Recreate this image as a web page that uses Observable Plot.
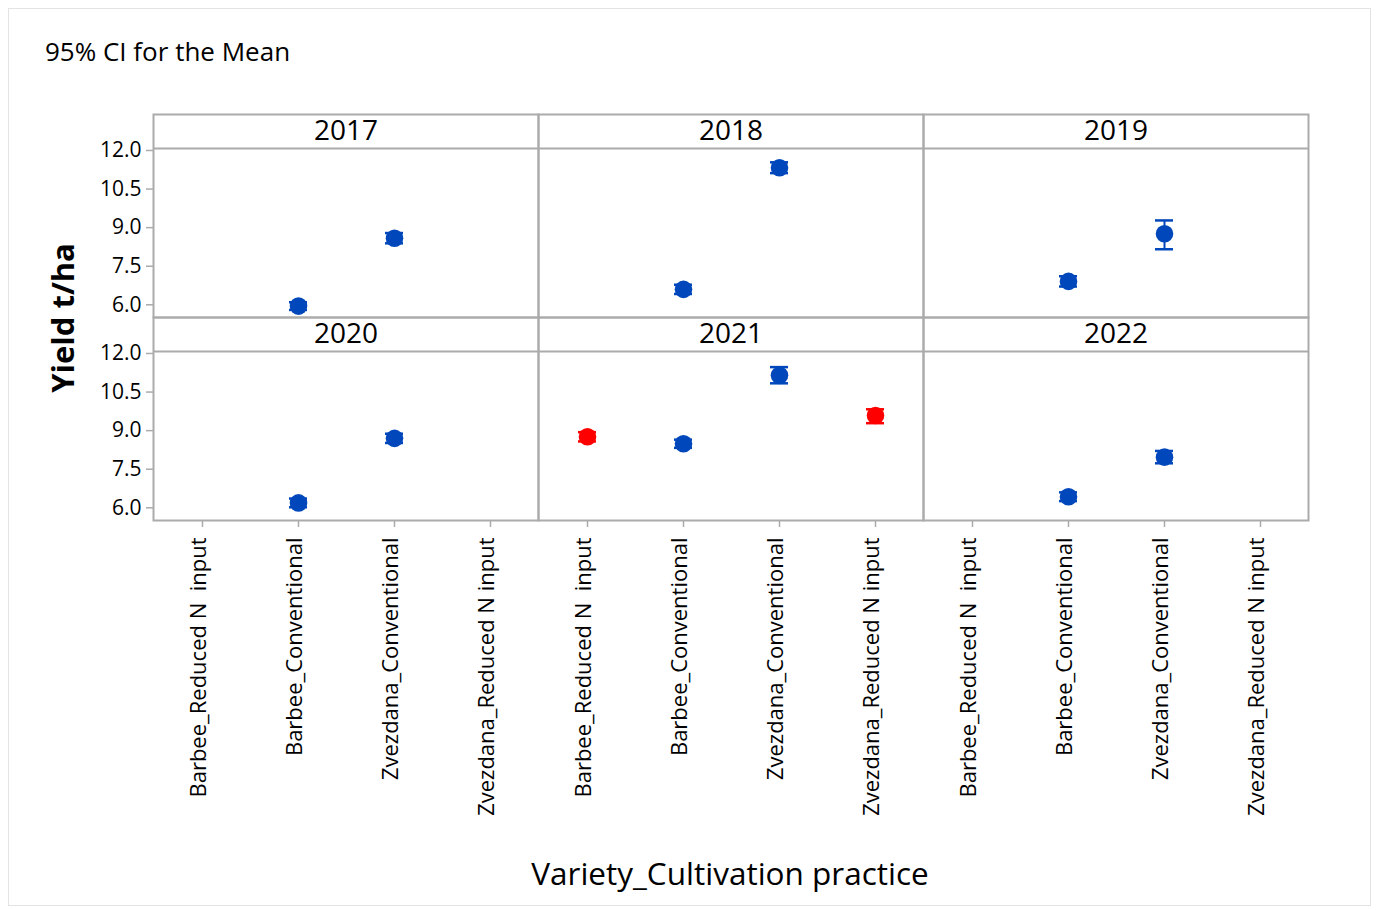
<!DOCTYPE html>
<html>
<head>
<meta charset="utf-8">
<script src="https://cdn.jsdelivr.net/npm/d3@7"></script>
<script src="https://cdn.jsdelivr.net/npm/@observablehq/plot@0.6"></script>
<style>
  html, body { margin: 0; padding: 0; background: #fff; }
  #wrap { position: relative; width: 1377px; height: 910px; font-family: "Open Sans", sans-serif; overflow: hidden; }
  #border { position: absolute; left: 8px; top: 8px; width: 1363px; height: 898px; border: 1px solid #e3e3e3; box-sizing: border-box; }
  #title { position: absolute; left: 45px; top: 33px; font-size: 26px; color: #000; white-space: nowrap; }
  #ylabel { position: absolute; left: 62px; top: 318px; font-size: 31px; font-weight: bold; color: #000; white-space: nowrap; transform: translate(-50%, -50%) rotate(-90deg); }
  #xlabel { position: absolute; left: 730px; top: 872px; font-size: 31.5px; color: #000; white-space: nowrap; transform: translate(-50%, -50%); }
  #chart { position: absolute; left: 0; top: 0; }
  #chart svg text { white-space: pre; }
</style>
</head>
<body>
<div id="wrap">
  <div id="border"></div>
  <div id="chart"></div>
  <div id="title">95% CI for the Mean</div>
  <div id="ylabel">Yield t/ha</div>
  <div id="xlabel">Variety_Cultivation practice</div>
</div>
<script>
// ---- data ----
const years = [2017, 2018, 2019, 2020, 2021, 2022];
const categories = ["Barbee_Reduced N  input", "Barbee_Conventional", "Zvezdana_Conventional", "Zvezdana_Reduced N input"];
const yTicks = [6.0, 7.5, 9.0, 10.5, 12.0];

// means and 95% CI bounds per year (null = no data)
const barbeeReducedMean  = [null, null, null, null, 8.76, null];
const barbeeReducedLo    = [null, null, null, null, 8.58, null];
const barbeeReducedHi    = [null, null, null, null, 8.94, null];

const barbeeConvMean     = [5.95, 6.60, 6.91, 6.19, 8.49, 6.43];
const barbeeConvLo       = [5.80, 6.42, 6.71, 6.02, 8.33, 6.26];
const barbeeConvHi       = [6.10, 6.78, 7.11, 6.36, 8.65, 6.60];

const zvezdanaConvMean   = [8.59, 11.33, 8.76, 8.70, 11.15, 7.97];
const zvezdanaConvLo     = [8.39, 11.12, 8.16, 8.52, 10.84, 7.73];
const zvezdanaConvHi     = [8.79, 11.54, 9.28, 8.88, 11.47, 8.21];

const zvezdanaReducedMean = [null, null, null, null, 9.59, null];
const zvezdanaReducedLo   = [null, null, null, null, 9.29, null];
const zvezdanaReducedHi   = [null, null, null, null, 9.83, null];

// ---- build table ----
const series = [
  {cat: categories[0], mean: barbeeReducedMean, lo: barbeeReducedLo, hi: barbeeReducedHi, reduced: true},
  {cat: categories[1], mean: barbeeConvMean, lo: barbeeConvLo, hi: barbeeConvHi, reduced: false},
  {cat: categories[2], mean: zvezdanaConvMean, lo: zvezdanaConvLo, hi: zvezdanaConvHi, reduced: false},
  {cat: categories[3], mean: zvezdanaReducedMean, lo: zvezdanaReducedLo, hi: zvezdanaReducedHi, reduced: true}
];
const data = years.flatMap((yr, i) =>
  series.filter(s => s.mean[i] != null).map(s => ({
    year: yr, col: i % 3, row: Math.floor(i / 3), cat: s.cat,
    mean: s.mean[i], lo: s.lo[i], hi: s.hi[i], reduced: s.reduced
  }))
);
const panels = years.map((yr, i) => ({year: yr, col: i % 3, row: Math.floor(i / 3)}));

const BLUE = "#0047bb", RED = "#ff0000", GRID = "#ababab";
const colorOf = d => d.reduced ? RED : BLUE;

// y domain covers the plotting area plus the year strip on top of each panel
const Y_MIN = 5.506, Y_STRIP = 12.08, Y_MAX = 13.399;

const chart = Plot.plot({
  width: 1377,
  height: 910,
  marginLeft: 152,
  marginRight: 69,
  marginTop: 114,
  marginBottom: 390,
  style: {fontFamily: "Open Sans, sans-serif", background: "transparent", color: "#000"},
  fx: {domain: [0, 1, 2], padding: 0, axis: null},
  fy: {domain: [0, 1], padding: 0, axis: null},
  x: {type: "band", domain: categories, padding: 0},
  y: {domain: [Y_MIN, Y_MAX]},
  color: {type: "identity"},
  marks: [
    Plot.frame({stroke: GRID, strokeWidth: 2}),
    Plot.ruleY([Y_STRIP], {stroke: GRID, strokeWidth: 2}),
    Plot.text(panels, {fx: "col", fy: "row", text: d => String(d.year), frameAnchor: "top", dy: 17, lineAnchor: "middle", fontSize: 28, fontWeight: 500, fill: "#000"}),
    Plot.ruleX(data, {fx: "col", fy: "row", x: "cat", y1: "lo", y2: "hi", stroke: colorOf, strokeWidth: 2}),
    Plot.tickY(data, {fx: "col", fy: "row", x: "cat", y: "lo", stroke: colorOf, strokeWidth: 2.5, insetLeft: 39, insetRight: 39}),
    Plot.tickY(data, {fx: "col", fy: "row", x: "cat", y: "hi", stroke: colorOf, strokeWidth: 2.5, insetLeft: 39, insetRight: 39}),
    Plot.dot(data, {fx: "col", fy: "row", x: "cat", y: "mean", r: 8.8, fill: colorOf, stroke: null}),
    Plot.axisY({ticks: yTicks, tickFormat: d3.format(".1f"), fontSize: 21, tickSize: 7, tickPadding: 5, stroke: GRID, strokeWidth: 1.5, fill: "#000", label: null}),
    Plot.axisX({tickSize: 7, tickFormat: () => "", stroke: GRID, strokeWidth: 1.5, label: null}),
    Plot.axisX({tickRotate: -90, fontSize: 22, tickSize: 0, tickPadding: 17, dx: -4, fill: "#000", label: null})
  ]
});
document.getElementById("chart").appendChild(chart);
</script>
</body>
</html>
